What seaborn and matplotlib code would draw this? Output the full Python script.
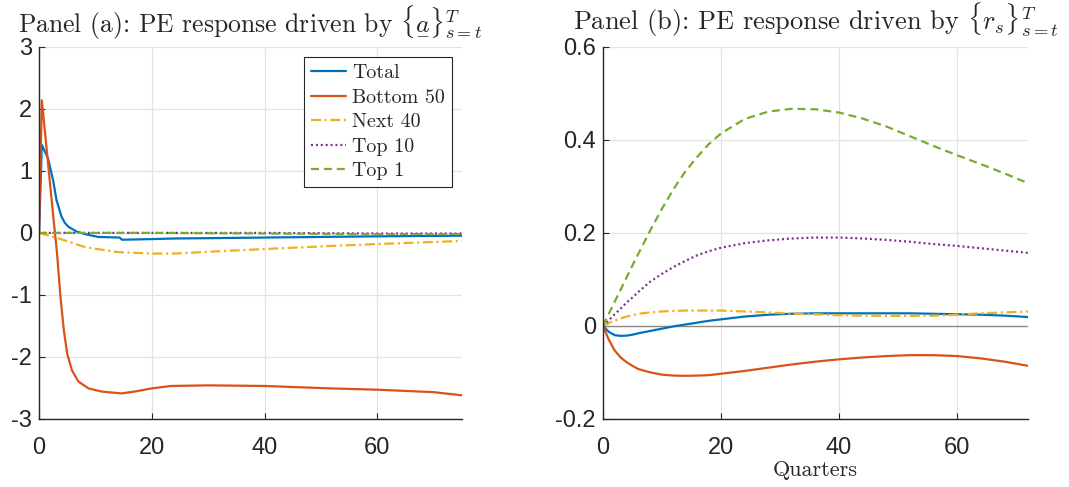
import numpy as np
import pandas as pd
import matplotlib
matplotlib.use('Agg')
import matplotlib.pyplot as plt
from matplotlib.ticker import FuncFormatter
import seaborn as sns

# Painel (a): resposta PE dirigida por {a}
a_total_x = [0, 0.5, 1.6, 2.5, 3.1, 4.0, 4.6, 5.2, 6.7, 8.2, 10.5, 14.3, 14.7, 20, 24, 30, 40, 50, 60, 75]
a_total_y = [0, 1.42, 1.2, 0.85, 0.53, 0.26, 0.16, 0.1, 0.02, -0.02, -0.065, -0.075, -0.11, -0.1, -0.09,
             -0.085, -0.075, -0.065, -0.055, -0.045]

a_bot_x = [0, 0.5, 2.6, 3.2, 3.8, 4.4, 5.0, 5.85, 7.0, 8.8, 11.1, 14.6, 17.0, 19.9, 23.4, 30, 40, 52, 60, 70, 75]
a_bot_y = [0, 2.14, 0.2, -0.33, -1.03, -1.57, -1.95, -2.22, -2.40, -2.51, -2.56, -2.59, -2.56, -2.51, -2.47,
           -2.46, -2.47, -2.51, -2.53, -2.57, -2.62]

a_next_x = [0, 3.5, 8.2, 14, 20, 24, 30, 40, 52, 60, 75]
a_next_y = [0, -0.09, -0.23, -0.31, -0.333, -0.333, -0.305, -0.26, -0.21, -0.18, -0.13]

a_top10_x = [0, 20, 40, 60, 75]
a_top10_y = [0, 0, 0, -0.01, -0.01]

a_top1_x = [0, 20, 40, 60, 75]
a_top1_y = [0, 0, -0.01, -0.02, -0.02]

# Painel (b): resposta PE dirigida por {r_s}
b_x = [0, 1, 2, 3, 4, 5, 6, 8, 10, 12, 14, 16, 18, 20, 24, 28, 32, 36, 40, 44, 48, 52, 56, 60, 64, 68, 72]
b_total = [0, -0.013, -0.02, -0.0215, -0.021, -0.019, -0.016, -0.011, -0.006, -0.001, 0.003, 0.007, 0.011,
           0.014, 0.02, 0.024, 0.026, 0.027, 0.027, 0.027, 0.027, 0.027, 0.026, 0.025, 0.024, 0.022, 0.019]
b_bot = [0, -0.03, -0.053, -0.068, -0.078, -0.086, -0.093, -0.1, -0.105, -0.107, -0.1075, -0.107, -0.106,
         -0.103, -0.097, -0.09, -0.083, -0.077, -0.072, -0.068, -0.065, -0.063, -0.063, -0.065, -0.07,
         -0.077, -0.086]
b_next = [0, 0.006, 0.011, 0.016, 0.02, 0.023, 0.026, 0.029, 0.031, 0.032, 0.033, 0.033, 0.033, 0.033,
          0.031, 0.029, 0.026, 0.025, 0.023, 0.022, 0.0215, 0.0215, 0.022, 0.024, 0.027, 0.029, 0.031]
b_top10 = [0, 0.012, 0.025, 0.037, 0.05, 0.061, 0.073, 0.095, 0.112, 0.127, 0.14, 0.152, 0.161, 0.168,
           0.178, 0.184, 0.188, 0.19, 0.19, 0.188, 0.185, 0.181, 0.176, 0.172, 0.167, 0.162, 0.157]
b_top1 = [0, 0.026, 0.052, 0.078, 0.104, 0.13, 0.155, 0.205, 0.252, 0.295, 0.333, 0.364, 0.392, 0.414,
          0.445, 0.461, 0.467, 0.466, 0.459, 0.446, 0.429, 0.408, 0.387, 0.367, 0.348, 0.328, 0.307]

labels = ['Total', 'Bottom 50', 'Next 40', 'Top 10', 'Top 1']
colors = ['#0072BD', '#D95319', '#EDB120', '#7E2F8E', '#77AC30']
dash_seq = [None, None, (4.5, 1.6, 1.0, 1.6), (0.9, 1.3), (3.6, 2.2)]

sns.set_theme(style='whitegrid')
plt.rcParams['font.family'] = ['Liberation Sans', 'DejaVu Sans']
plt.rcParams['mathtext.fontset'] = 'cm'
plt.rcParams['axes.unicode_minus'] = False

fig = plt.figure(figsize=(10.69, 4.87), dpi=100)
ax1 = fig.add_axes([0.0365, 0.140, 0.3955, 0.7635])
ax2 = fig.add_axes([0.564, 0.140, 0.3977, 0.7635])

serif = 'cmr10'
lw = 1.6

panel_a = [(a_total_x, a_total_y), (a_bot_x, a_bot_y), (a_next_x, a_next_y),
           (a_top10_x, a_top10_y), (a_top1_x, a_top1_y)]
for (xs, ys), lab, c, d in zip(panel_a, labels, colors, dash_seq):
    sns.lineplot(x=xs, y=ys, ax=ax1, color=c, linewidth=lw, label=lab)
    if d is not None:
        ax1.lines[-1].set_dashes(d)

panel_b = [b_total, b_bot, b_next, b_top10, b_top1]
ax2.axhline(0, color='#8c8c8c', linewidth=1.0, zorder=1)
for ys, c, d in zip(panel_b, colors, dash_seq):
    sns.lineplot(x=b_x, y=ys, ax=ax2, color=c, linewidth=lw, legend=False)
    if d is not None:
        ax2.lines[-1].set_dashes(d)

ax1.set_xlim(0, 75)
ax1.set_ylim(-3, 3)
ax1.set_yticks([-3, -2, -1, 0, 1, 2, 3])
ax1.set_xticks([0, 20, 40, 60])
ax2.set_xlim(0, 72)
ax2.set_ylim(-0.2, 0.6)
ax2.set_yticks([-0.2, 0, 0.2, 0.4, 0.6])
ax2.set_xticks([0, 20, 40, 60])

fmt = FuncFormatter(lambda v, _: f'{v:g}')
for ax in (ax1, ax2):
    ax.yaxis.set_major_formatter(fmt)
    ax.xaxis.set_major_formatter(fmt)
    ax.set_facecolor('white')
    ax.grid(True, color='#e3e3e3', linewidth=0.9)
    for side in ('top', 'right'):
        ax.spines[side].set_visible(False)
    for side in ('left', 'bottom'):
        ax.spines[side].set_color('#262626')
        ax.spines[side].set_linewidth(1.0)
    ax.tick_params(axis='both', direction='in', length=4, width=0.8, color='#262626',
                   labelsize=17, labelcolor='#262626', left=True, bottom=True)
    ax.tick_params(axis='y', pad=5)
    ax.tick_params(axis='x', pad=13)
    ax.set_xlabel('')
    ax.set_ylabel('')

ax1.set_title(r'Panel (a): PE response driven by $\{\underset{-}{a}\}_{s=t}^{T}$',
              fontfamily=serif, fontsize=18.5, pad=12)
ax2.set_title(r'Panel (b): PE response driven by $\{r_s\}_{s=t}^{T}$',
              fontfamily=serif, fontsize=19, pad=12)
ax2.set_xlabel('Quarters', fontfamily=serif, fontsize=16, labelpad=1)

leg = ax1.legend(loc='upper right', prop={'family': serif, 'size': 14.4},
                 frameon=True, fancybox=False, edgecolor='#262626', framealpha=1,
                 handlelength=1.75, labelspacing=0.33, borderaxespad=0.5,
                 borderpad=0.35, handletextpad=0.3)
leg.get_frame().set_linewidth(0.8)

fig.savefig('out.png', dpi=100)
